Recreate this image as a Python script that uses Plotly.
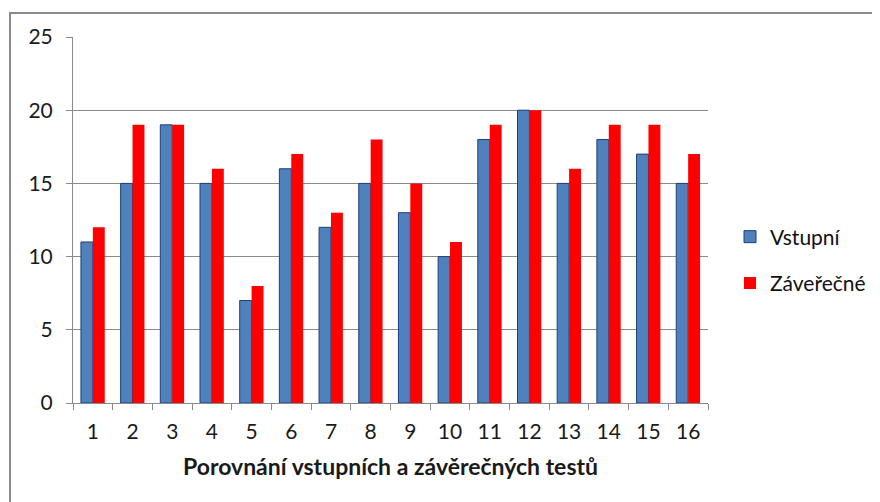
import plotly.graph_objects as go

categories = [str(i) for i in range(1, 17)]
vstupni = [11, 15, 19, 15, 7, 16, 12, 15, 13, 10, 18, 20, 15, 18, 17, 15]
zaverecne = [12, 19, 19, 16, 8, 17, 13, 18, 15, 11, 19, 20, 16, 19, 19, 17]
series_names = ["Vstupní", "Záveřečné"]
x_title = "Porovnání vstupních a závěrečných testů"

OFF = 8  # page body margin
W, H = 880, 502
L, T = 73 - OFF, 37 - OFF
R = W - (708 - OFF)
B = H - (403 - OFF)
pw, ph = W - L - R, H - T - B

fig = go.Figure()
fig.add_trace(go.Bar(x=categories, y=vstupni, name=series_names[0], legendgroup="a",
                     marker=dict(color="#4F81BD", line=dict(color="#1F3F7A", width=1))))
fig.add_trace(go.Bar(x=categories, y=zaverecne, name=series_names[1], legendgroup="b",
                     marker=dict(color="#FF0000", line=dict(width=0))))

def px_x(x):
    return (x - OFF - L) / pw

def px_y(y):
    return (H - B - (y - OFF)) / ph

border = dict(color="#8a8a8a", width=2)
fig.add_shape(type="rect", xref="paper", yref="paper", layer="above",
              x0=px_x(10), y0=px_y(13), x1=px_x(900), y1=px_y(540),
              line=border, fillcolor="rgba(0,0,0,0)")

fig.update_layout(
    width=W, height=H,
    margin=dict(l=L, r=R, t=T, b=B, autoexpand=False),
    paper_bgcolor="white", plot_bgcolor="white",
    barmode="group", bargap=0.4, bargroupgap=0,
    font=dict(family="Lato, Open Sans, sans-serif", size=20, color="#1a1a1a"),
    showlegend=True,
    legend=dict(x=px_x(730), y=px_y(260), xanchor="left", yanchor="middle",
                font=dict(size=21, color="#111"), tracegroupgap=16, itemwidth=30,
                bgcolor="rgba(0,0,0,0)"),
    xaxis=dict(
        showline=True, linecolor="#8a8a8a", linewidth=1,
        ticks="outside", tickson="boundaries", ticklen=6, tickcolor="#8a8a8a",
        showgrid=False,
        title=dict(text="<b>" + x_title + "</b>", font=dict(size=23), standoff=16),
        tickfont=dict(size=21),
        ticklabelstandoff=10,
    ),
    yaxis=dict(
        range=[0, 25], dtick=5,
        showline=True, linecolor="#8a8a8a", linewidth=1,
        ticks="outside", ticklen=6, tickcolor="#8a8a8a",
        showgrid=True, gridcolor="#8a8a8a", gridwidth=1,
        zeroline=False,
        tickfont=dict(size=21),
        ticklabelstandoff=9,
    ),
)

fig.write_html("out.html")
